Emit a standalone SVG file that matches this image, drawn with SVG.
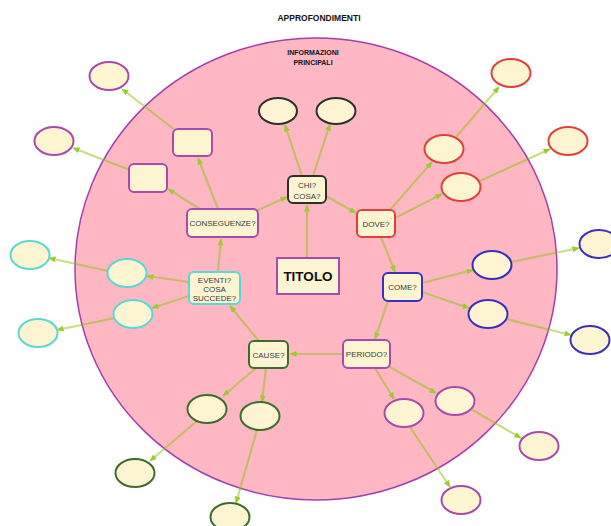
<svg xmlns="http://www.w3.org/2000/svg" width="611" height="526" viewBox="0 0 611 526">
<style>
.bg{fill:#ffb7c4;stroke:#a23fae;stroke-width:1.5}
.n{fill:#fdf5d2;stroke-width:2}
.pu{stroke:#a84aae}
.bk{stroke:#2e2e2e}
.rd{stroke:#e0403a}
.bl{stroke:#3a30c0}
.gr{stroke:#3e6b2e}
.cy{stroke:#5ad8d4}
.t{font-family:"Liberation Sans",Arial,sans-serif;font-size:8px;fill:#3a3a3a;text-anchor:middle}
.h{font-family:"Liberation Sans",Arial,sans-serif;font-weight:bold;fill:#111;text-anchor:middle}
.c line{stroke:#90c010;stroke-opacity:0.5;stroke-width:2.2;marker-end:url(#a)}
</style>
<defs>
<marker id="a" markerUnits="userSpaceOnUse" markerWidth="7" markerHeight="6" refX="6.5" refY="3" orient="auto">
<path d="M0,0 L7,3 L0,6 z" fill="#9ccc2c"/>
</marker>
</defs>
<rect width="611" height="526" fill="#fff"/>
<ellipse class="bg" cx="316" cy="269" rx="241" ry="231"/>
<text class="h" x="319" y="21" font-size="8.5">APPROFONDIMENTI</text>
<text class="h" x="313" y="55" font-size="7">INFORMAZIONI</text>
<text class="h" x="313" y="65" font-size="7">PRINCIPALI</text>
<g class="c">
<line x1="307" y1="258" x2="307" y2="205"/>
<line x1="302" y1="176" x2="285" y2="125"/>
<line x1="313" y1="176" x2="330" y2="124"/>
<line x1="326" y1="196" x2="356" y2="213"/>
<line x1="256" y1="211" x2="287" y2="197"/>
<line x1="218" y1="209" x2="198" y2="158"/>
<line x1="200" y1="209" x2="168" y2="189"/>
<line x1="175" y1="130" x2="122" y2="89"/>
<line x1="130" y1="170" x2="73" y2="148"/>
<line x1="218" y1="272" x2="221" y2="239"/>
<line x1="259" y1="341" x2="230" y2="306"/>
<line x1="343" y1="354" x2="290" y2="354"/>
<line x1="388" y1="301" x2="375" y2="339"/>
<line x1="381" y1="237" x2="395" y2="272"/>
<line x1="390" y1="210" x2="432" y2="162"/>
<line x1="395" y1="218" x2="442" y2="194"/>
<line x1="456" y1="137" x2="499" y2="87"/>
<line x1="480" y1="181" x2="550" y2="149"/>
<line x1="422" y1="283" x2="473" y2="270"/>
<line x1="422" y1="292" x2="469" y2="308"/>
<line x1="511" y1="262" x2="579" y2="248"/>
<line x1="506" y1="319" x2="571" y2="335"/>
<line x1="375" y1="368" x2="394" y2="399"/>
<line x1="388" y1="366" x2="436" y2="393"/>
<line x1="471" y1="409" x2="521" y2="438"/>
<line x1="410" y1="427" x2="450" y2="487"/>
<line x1="256" y1="368" x2="223" y2="396"/>
<line x1="266" y1="368" x2="262" y2="402"/>
<line x1="197" y1="421" x2="150" y2="461"/>
<line x1="257" y1="430" x2="236" y2="503"/>
<line x1="189" y1="282" x2="147" y2="276"/>
<line x1="189" y1="296" x2="152" y2="308"/>
<line x1="108" y1="271" x2="49" y2="258"/>
<line x1="115" y1="318" x2="57" y2="330"/>
</g>
<g id="titolo"><rect class="n pu" x="277" y="258" width="62" height="36"/><text class="h" x="308" y="281" font-size="13.5">TITOLO</text></g>
<g id="chi"><rect class="n bk" x="288" y="176" width="38" height="27" rx="5"/><text class="t" x="307" y="188">CHI?</text><text class="t" x="307" y="199">COSA?</text></g>
<g id="chi-e1"><ellipse class="n bk" cx="278" cy="111" rx="19" ry="13"/></g>
<g id="chi-e2"><ellipse class="n bk" cx="336" cy="111" rx="19.5" ry="13"/></g>
<g id="conseguenze"><rect class="n pu" x="187" y="209" width="71" height="28" rx="5"/><text class="t" x="222.5" y="226">CONSEGUENZE?</text></g>
<g id="cons-r1"><rect class="n pu" x="173" y="129" width="39" height="27" rx="5"/></g>
<g id="cons-r2"><rect class="n pu" x="129" y="164" width="38" height="28" rx="5"/></g>
<g id="cons-e1"><ellipse class="n pu" cx="109" cy="76" rx="19.5" ry="14"/></g>
<g id="cons-e2"><ellipse class="n pu" cx="54" cy="141" rx="19.5" ry="14"/></g>
<g id="dove"><rect class="n rd" x="357" y="210" width="38" height="27" rx="5"/><text class="t" x="376" y="226.5">DOVE?</text></g>
<g id="dove-e1"><ellipse class="n rd" cx="511" cy="73" rx="19.5" ry="14"/></g>
<g id="dove-e2"><ellipse class="n rd" cx="568" cy="141" rx="19.5" ry="14"/></g>
<g id="dove-e3"><ellipse class="n rd" cx="444" cy="149" rx="19.5" ry="14"/></g>
<g id="dove-e4"><ellipse class="n rd" cx="461" cy="187" rx="19.5" ry="14"/></g>
<g id="come"><rect class="n bl" x="383" y="273" width="39" height="28" rx="5"/><text class="t" x="402.5" y="290">COME?</text></g>
<g id="come-e1"><ellipse class="n bl" cx="492" cy="265" rx="19.5" ry="14"/></g>
<g id="come-e2"><ellipse class="n bl" cx="488" cy="314" rx="19.5" ry="14"/></g>
<g id="come-e3"><ellipse class="n bl" cx="599" cy="244" rx="19.5" ry="14"/></g>
<g id="come-e4"><ellipse class="n bl" cx="590" cy="340" rx="19.5" ry="14"/></g>
<g id="periodo"><rect class="n pu" x="343" y="340" width="47" height="28" rx="5"/><text class="t" x="366.5" y="357">PERIODO?</text></g>
<g id="per-e1"><ellipse class="n pu" cx="404" cy="413" rx="19.5" ry="14"/></g>
<g id="per-e2"><ellipse class="n pu" cx="455" cy="401" rx="19.5" ry="14"/></g>
<g id="per-e3"><ellipse class="n pu" cx="539" cy="446" rx="19.5" ry="14"/></g>
<g id="per-e4"><ellipse class="n pu" cx="461" cy="500" rx="19.5" ry="14"/></g>
<g id="cause"><rect class="n gr" x="249" y="341" width="39" height="27" rx="5"/><text class="t" x="268.5" y="357.5">CAUSE?</text></g>
<g id="cause-e1"><ellipse class="n gr" cx="207" cy="409" rx="19.5" ry="14"/></g>
<g id="cause-e2"><ellipse class="n gr" cx="260" cy="416" rx="19.5" ry="14"/></g>
<g id="cause-e3"><ellipse class="n gr" cx="135" cy="473" rx="19.5" ry="14"/></g>
<g id="cause-e4"><ellipse class="n gr" cx="230" cy="517" rx="19.5" ry="14"/></g>
<g id="eventi"><rect class="n cy" x="189" y="272" width="51" height="32" rx="5"/><text class="t" x="214.5" y="283" font-size="7.5">EVENTI?</text><text class="t" x="214.5" y="292" font-size="7.5">COSA</text><text class="t" x="214.5" y="301" font-size="7.5">SUCCEDE?</text></g>
<g id="ev-e1"><ellipse class="n cy" cx="127" cy="273" rx="19.5" ry="14"/></g>
<g id="ev-e2"><ellipse class="n cy" cx="133" cy="314" rx="19.5" ry="14"/></g>
<g id="ev-e3"><ellipse class="n cy" cx="30" cy="255" rx="19.5" ry="14"/></g>
<g id="ev-e4"><ellipse class="n cy" cx="38" cy="333" rx="19.5" ry="14"/></g>
</svg>
